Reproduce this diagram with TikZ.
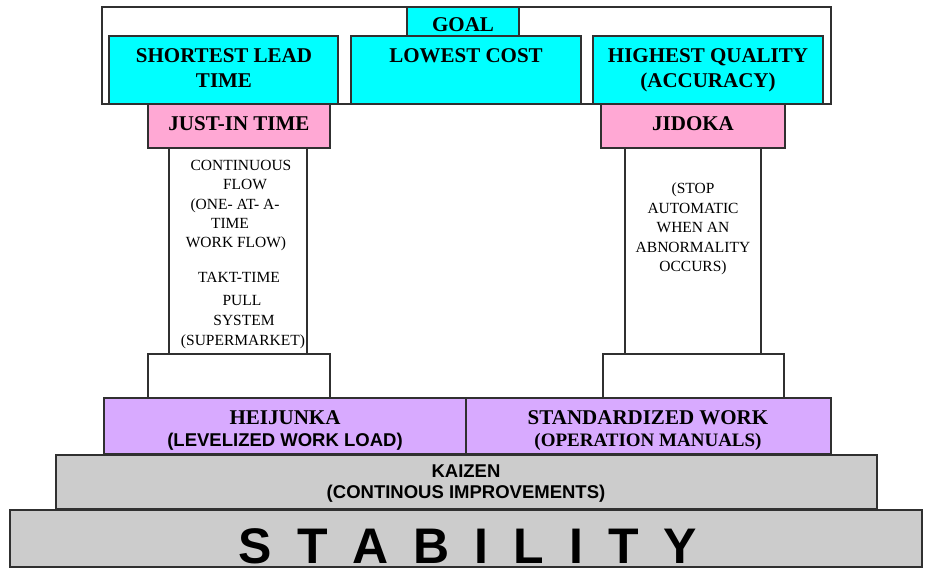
\documentclass[tikz,border=0pt]{standalone}
\usepackage{fontspec}
\setmainfont{Liberation Serif}
\newfontfamily\sansb{Liberation Sans}
\definecolor{goalcyan}{HTML}{00FFFF}
\definecolor{pillarpink}{HTML}{FFA8D4}
\definecolor{basepurple}{HTML}{D8AAFF}
\definecolor{stonegray}{HTML}{CCCCCC}
\definecolor{edgegray}{HTML}{303030}
\begin{document}
\begin{tikzpicture}[x=1pt,y=-1pt,
  box/.style={draw=edgegray, line width=1.3pt},
  ttl/.style={font=\fontsize{21}{24}\selectfont\bfseries, inner sep=0pt, anchor=base},
  subttl/.style={font=\fontsize{19}{22}\selectfont\bfseries, inner sep=0pt, anchor=base},
  coltxt/.style={font=\fontsize{15.5}{18}\selectfont, inner sep=0pt, anchor=base},
  sanstxt/.style={font=\sansb\fontsize{18.5}{22}\selectfont\bfseries, inner sep=0pt, anchor=base},
  bigtxt/.style={font=\sansb\fontsize{50}{50}\selectfont\bfseries, inner sep=0pt,
                 text depth=0pt, anchor=base}]
\useasboundingbox (0,0) rectangle (930,569);

% roof: goal frame and the three targets
\draw[box, fill=white] (102,7) rectangle (831,104);
\draw[box, fill=goalcyan] (109,36) rectangle (338,104);
\draw[box, fill=goalcyan] (351,36) rectangle (581,104);
\draw[box, fill=goalcyan] (593,36) rectangle (823,104);
\draw[box, fill=goalcyan] (407,7) rectangle (519,36);

% left pillar
\draw[box, fill=pillarpink] (148,104) rectangle (330,148);
\draw[box, fill=white] (169,148) rectangle (307,354);
\draw[box, fill=white] (148,354) rectangle (330,398);

% right pillar
\draw[box, fill=pillarpink] (601,104) rectangle (785,148);
\draw[box, fill=white] (625,148) rectangle (761,354);
\draw[box, fill=white] (603,354) rectangle (784,398);

% foundation layers
\draw[box, fill=basepurple] (104,398) rectangle (466,454);
\draw[box, fill=basepurple] (466,398) rectangle (831,454);
\draw[box, fill=stonegray] (56,455) rectangle (877,509);
\draw[box, fill=stonegray] (10,510) rectangle (922,567);

% roof labels
\node[ttl] (goal) at (463,32) {GOAL};
\node[ttl] (lead1) at (224,63) {SHORTEST LEAD};
\node[ttl] (lead2) at (224,88) {TIME};
\node[ttl] (cost) at (466,63) {LOWEST COST};
\node[ttl] (qual1) at (708,63) {HIGHEST QUALITY};
\node[ttl] (qual2) at (708,88) {(ACCURACY)};

% pillar heads
\node[ttl] (jit) at (239,131) {JUST-IN TIME};
\node[ttl] (jidoka) at (693,131) {JIDOKA};

% left pillar contents
\node[coltxt] (jit1) at (241,171) {CONTINUOUS};
\node[coltxt] (jit2) at (245,190) {FLOW};
\node[coltxt] (jit3) at (235,209.5) {(ONE- AT- A-};
\node[coltxt] (jit4) at (230,229) {TIME};
\node[coltxt] (jit5) at (236,248) {WORK FLOW)};
\node[coltxt] (jit6) at (239,283) {TAKT-TIME};
\node[coltxt] (jit7) at (242,306) {PULL};
\node[coltxt] (jit8) at (244,326) {SYSTEM};
\node[coltxt] (jit9) at (243,346) {(SUPERMARKET)};

% right pillar contents
\node[coltxt] (jid1) at (693,194) {(STOP};
\node[coltxt] (jid2) at (693,213.5) {AUTOMATIC};
\node[coltxt] (jid3) at (693,233) {WHEN AN};
\node[coltxt] (jid4) at (693,252.5) {ABNORMALITY};
\node[coltxt] (jid5) at (693,272) {OCCURS)};

% foundation labels
\node[ttl] (hei1) at (285,425) {HEIJUNKA};
\node[sanstxt] (hei2) at (285,447) {(LEVELIZED WORK LOAD)};
\node[ttl] (std1) at (648,425) {STANDARDIZED WORK};
\node[subttl] (std2) at (648,447) {(OPERATION MANUALS)};
\node[sanstxt] (kai1) at (466,478) {KAIZEN};
\node[sanstxt] (kai2) at (466,499) {(CONTINOUS IMPROVEMENTS)};
\node[bigtxt] (stab) at (468,563)
  {S\hspace{25pt}T\hspace{25pt}A\hspace{25pt}B\hspace{25pt}I\hspace{25pt}L\hspace{25pt}I\hspace{25pt}T\hspace{25pt}Y};
\end{tikzpicture}
\end{document}
